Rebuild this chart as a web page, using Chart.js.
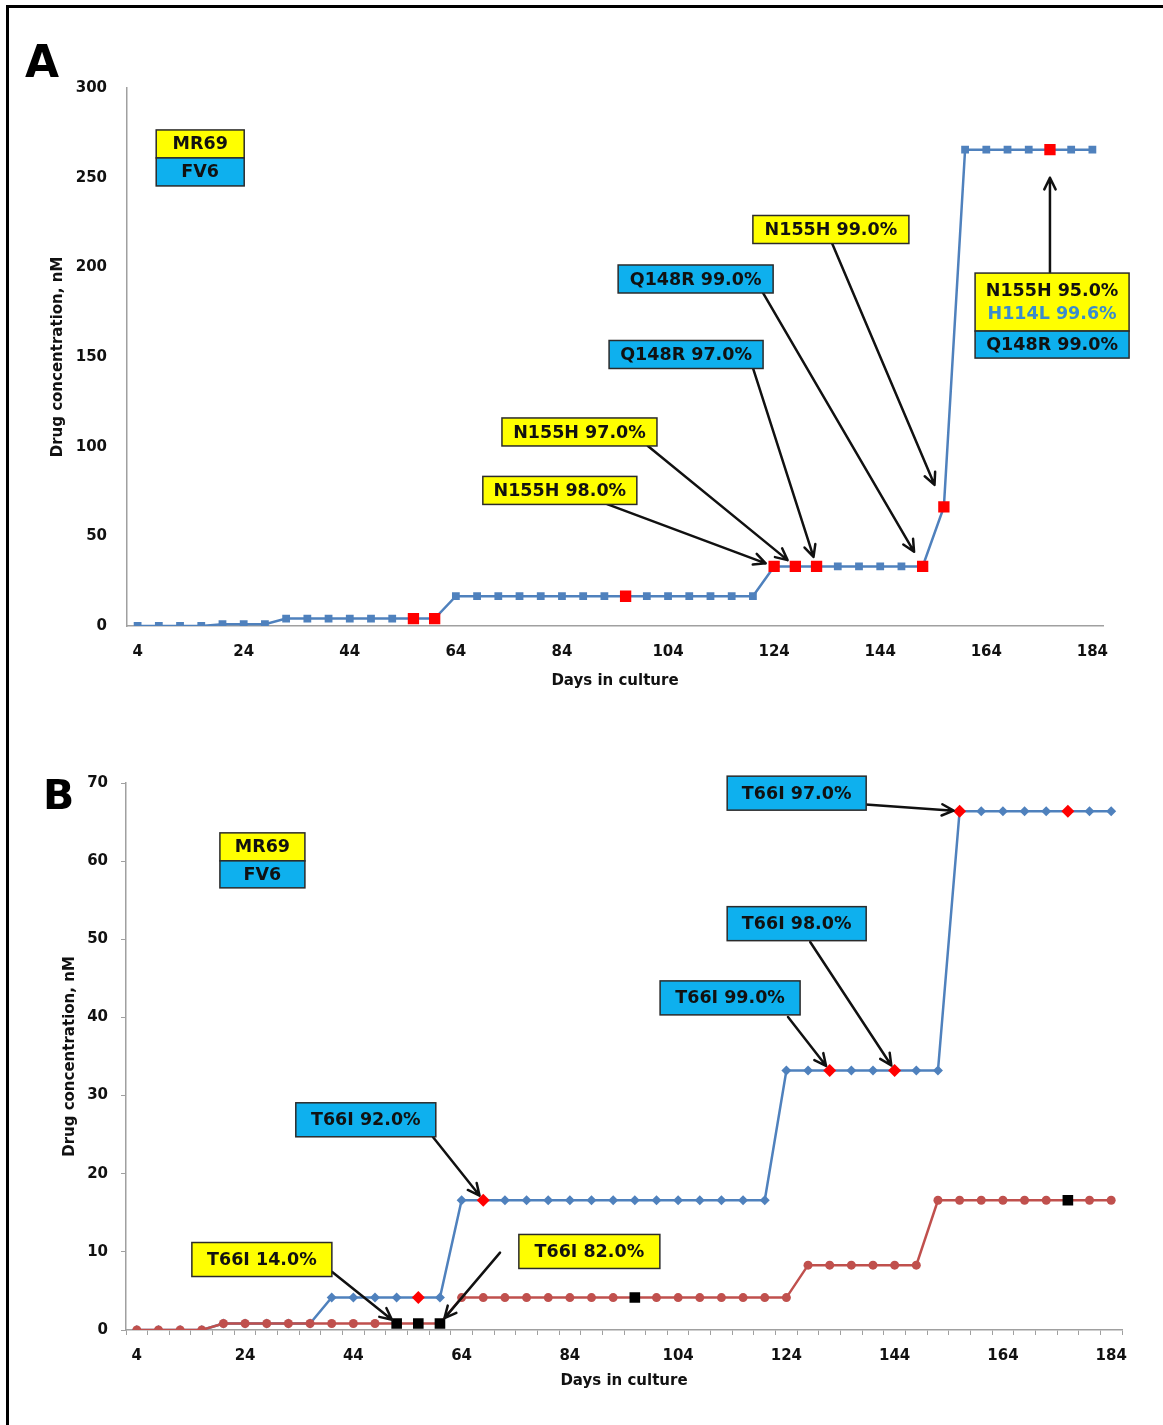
<!DOCTYPE html>
<html>
<head>
<meta charset="utf-8">
<title>Drug escalation - MR69 / FV6</title>
<script src="https://cdn.jsdelivr.net/npm/chart.js@4.4.1/dist/chart.umd.min.js"></script>
<style>
  html, body { margin: 0; padding: 0; background: #fff; }
  #page { position: relative; width: 1163px; height: 1425px; overflow: hidden; }
  .frame { position: absolute; left: 6px; top: 5px; width: 1200px; height: 1500px;
           border-left: 3px solid #000; border-top: 3px solid #000; }
  .panel-letter { position: absolute; font-family: "DejaVu Sans", sans-serif; font-weight: bold;
                  line-height: 1; color: #000; }
  canvas { position: absolute; left: 0; }
</style>
</head>
<body>
<div id="page">
  <div class="frame"></div>
  <canvas id="chartA" width="1163" height="720" style="top:0"></canvas>
  <canvas id="chartB" width="1163" height="705" style="top:720px"></canvas>
  <div class="panel-letter" style="left:25px;top:40px;font-size:44px">A</div>
  <div class="panel-letter" style="left:43px;top:775px;font-size:41px">B</div>
</div>
<script>
// days in culture (one sample every 4 days)
const dayLabels = [
  "4", "8", "12", "16", "20", "24", "28", "32", "36", "40", "44", "48",
  "52", "56", "60", "64", "68", "72", "76", "80", "84", "88", "92", "96",
  "100", "104", "108", "112", "116", "120", "124", "128", "132", "136",
  "140", "144", "148", "152", "156", "160", "164", "168", "172", "176",
  "180", "184",
];
const xTickLabels = ["4", "24", "44", "64", "84", "104", "124", "144", "164", "184"];

// panel A: FV6 drug concentration (nM)
const fv6DrugA = [
  0, 0, 0, 0, 1.04, 1.04, 1.04,
  4.15, 4.15, 4.15, 4.15, 4.15, 4.15, 4.15, 4.15,
  16.6, 16.6, 16.6, 16.6, 16.6, 16.6, 16.6, 16.6, 16.6, 16.6, 16.6, 16.6, 16.6, 16.6, 16.6,
  33.2, 33.2, 33.2, 33.2, 33.2, 33.2, 33.2, 33.2,
  66.4,
  265.6, 265.6, 265.6, 265.6, 265.6, 265.6, 265.6,
];
const sequencedDaysA = [56, 60, 96, 124, 128, 132, 152, 156, 176];

// panel B: FV6 and MR69 drug concentration (nM)
const fv6DrugB = [
  0, 0, 0, 0, 0.83, 0.83, 0.83, 0.83, 0.83,
  4.15, 4.15, 4.15, 4.15, 4.15, 4.15,
  16.6, 16.6, 16.6, 16.6, 16.6, 16.6, 16.6, 16.6, 16.6, 16.6, 16.6, 16.6, 16.6, 16.6, 16.6,
  33.2, 33.2, 33.2, 33.2, 33.2, 33.2, 33.2, 33.2,
  66.4, 66.4, 66.4, 66.4, 66.4, 66.4, 66.4, 66.4,
];
const mr69DrugB = [
  0, 0, 0, 0,
  0.83, 0.83, 0.83, 0.83, 0.83, 0.83, 0.83, 0.83, 0.83, 0.83, 0.83,
  4.15, 4.15, 4.15, 4.15, 4.15, 4.15, 4.15, 4.15, 4.15, 4.15, 4.15, 4.15, 4.15, 4.15, 4.15, 4.15,
  8.3, 8.3, 8.3, 8.3, 8.3, 8.3,
  16.6, 16.6, 16.6, 16.6, 16.6, 16.6, 16.6, 16.6, 16.6,
];
const sequencedDaysFv6B = [56, 68, 132, 144, 156, 176];
const sequencedDaysMr69B = [52, 56, 60, 96, 176];

const FV6_BLUE = "#4f81bd";
const MR69_RED = "#c0504d";
const MARK_RED = "#ff0000";
const MARK_BLACK = "#000000";
const YELLOW = "#ffff00";
const SKY = "#0eb0ee";
const INK = "#111111";
const H114L_BLUE = "#3a8ccc";
const AXIS_GREY = "#a0a0a0";
const FONT = '"DejaVu Sans", sans-serif';

const firstDay = Number(dayLabels[0]);
const dayStep = Number(dayLabels[1]) - firstDay;

// callout boxes: centre given as (day, nM); arrow tail as (day, nM); arrow ends near a data point
const calloutsA = [
  { day: 15.8, value: 261.0, w: 88, fontSize: 17.5,
    rows: [{ fill: YELLOW, h: 28, lines: [["MR69", INK]] }, { fill: SKY, h: 28, lines: [["FV6", INK]] }] },
  { day: 134.7, value: 221.1, w: 156, fontSize: 17.5,
    rows: [{ fill: YELLOW, h: 28, lines: [["N155H 99.0%", INK]] }],
    tail: [134.9, 213.6], target: { dataset: 0, day: 156 }, gap: 24 },
  { day: 109.2, value: 193.5, w: 155, fontSize: 17.5,
    rows: [{ fill: SKY, h: 28, lines: [["Q148R 99.0%", INK]] }],
    tail: [121.9, 185.7], target: { dataset: 0, day: 152 }, gap: 17 },
  { day: 107.4, value: 151.4, w: 154, fontSize: 17.5,
    rows: [{ fill: SKY, h: 28, lines: [["Q148R 97.0%", INK]] }],
    tail: [120.0, 143.9], target: { dataset: 0, day: 132 }, gap: 10 },
  { day: 87.3, value: 108.2, w: 155, fontSize: 17.5,
    rows: [{ fill: YELLOW, h: 28, lines: [["N155H 97.0%", INK]] }],
    tail: [100.2, 100.4], target: { dataset: 0, day: 128 }, gap: 10 },
  { day: 83.6, value: 75.6, w: 154, fontSize: 17.5,
    rows: [{ fill: YELLOW, h: 28, lines: [["N155H 98.0%", INK]] }],
    tail: [92.5, 68.0], target: { dataset: 0, day: 124 }, gap: 9 },
  { day: 176.4, value: 173.1, w: 154, fontSize: 17.5,
    rows: [
      { fill: YELLOW, h: 58, lines: [["N155H 95.0%", INK], ["H114L 99.6%", H114L_BLUE]] },
      { fill: SKY, h: 27, lines: [["Q148R 99.0%", INK]] },
    ],
    tail: [176.0, 196.8], target: { dataset: 0, day: 176 }, gap: 28 },
];

const calloutsB = [
  { day: 27.2, value: 60.1, w: 85, fontSize: 17.5,
    rows: [{ fill: YELLOW, h: 28, lines: [["MR69", INK]] }, { fill: SKY, h: 27, lines: [["FV6", INK]] }] },
  { day: 125.9, value: 68.7, w: 139, fontSize: 17.5,
    rows: [{ fill: SKY, h: 34, lines: [["T66I 97.0%", INK]] }],
    tail: [127.6, 67.8], target: { dataset: 1, day: 156 }, gap: 6 },
  { day: 125.9, value: 52.0, w: 139, fontSize: 17.5,
    rows: [{ fill: SKY, h: 34, lines: [["T66I 98.0%", INK]] }],
    tail: [128.4, 49.65], target: { dataset: 1, day: 144 }, gap: 6 },
  { day: 113.6, value: 42.5, w: 140, fontSize: 17.5,
    rows: [{ fill: SKY, h: 34, lines: [["T66I 99.0%", INK]] }],
    tail: [124.3, 40.06], target: { dataset: 1, day: 132 }, gap: 6 },
  { day: 46.3, value: 26.9, w: 140, fontSize: 17.5,
    rows: [{ fill: SKY, h: 34, lines: [["T66I 92.0%", INK]] }],
    tail: [58.7, 24.7], target: { dataset: 1, day: 68 }, gap: 6 },
  { day: 27.1, value: 9.02, w: 140, fontSize: 17.5,
    rows: [{ fill: YELLOW, h: 34, lines: [["T66I 14.0%", INK]] }],
    tail: [40.1, 7.42], target: { dataset: 0, day: 52 }, gap: 6 },
  { day: 87.6, value: 10.05, w: 141, fontSize: 17.5,
    rows: [{ fill: YELLOW, h: 34, lines: [["T66I 82.0%", INK]] }],
    tail: [71.1, 9.9], target: { dataset: 0, day: 60 }, gap: 7 },
];

function makeCalloutPlugin(notes) {
  return {
    id: "mutationCallouts",
    afterDatasetsDraw(chart) {
      const context = chart.ctx;
      const xScale = chart.scales.x;
      const yScale = chart.scales.y;
      const dayToX = (day) => xScale.getPixelForValue((day - firstDay) / dayStep);

      context.save();

      // arrows first, boxes on top
      notes.forEach((note) => {
        if (!note.target) {
          return;
        }
        const meta = chart.getDatasetMeta(note.target.dataset);
        const point = meta.data[dayLabels.indexOf(String(note.target.day))];
        const startX = dayToX(note.tail[0]);
        const startY = yScale.getPixelForValue(note.tail[1]);
        const angle = Math.atan2(point.y - startY, point.x - startX);
        const tipX = point.x - Math.cos(angle) * note.gap;
        const tipY = point.y - Math.sin(angle) * note.gap;

        context.strokeStyle = INK;
        context.lineWidth = 2.5;
        context.lineCap = "round";
        context.lineJoin = "miter";
        context.beginPath();
        context.moveTo(startX, startY);
        context.lineTo(tipX, tipY);
        [-1, 1].forEach((side) => {
          const a = angle + side * 0.45;
          context.moveTo(tipX - Math.cos(a) * 13, tipY - Math.sin(a) * 13);
          context.lineTo(tipX, tipY);
        });
        context.stroke();
      });

      notes.forEach((note) => {
        const totalHeight = note.rows.reduce((sum, row) => sum + row.h, 0);
        const left = dayToX(note.day) - note.w / 2;
        let top = yScale.getPixelForValue(note.value) - totalHeight / 2;

        note.rows.forEach((row) => {
          context.fillStyle = row.fill;
          context.fillRect(left, top, note.w, row.h);
          context.strokeStyle = "#2b2b2b";
          context.lineWidth = 1.5;
          context.strokeRect(left, top, note.w, row.h);

          context.font = `bold ${note.fontSize}px ${FONT}`;
          context.textAlign = "center";
          context.textBaseline = "middle";
          const lineCount = row.lines.length;
          row.lines.forEach(([text, color], lineIndex) => {
            context.fillStyle = color;
            const y = top + row.h / 2 + (lineIndex - (lineCount - 1) / 2) * 23 + 1;
            context.fillText(text, left + note.w / 2, y);
          });
          top += row.h;
        });
      });

      context.restore();
    },
  };
}

function xAxis({ drawTicks, padding, height }) {
  return {
    type: "category",
    offset: true,
    grid: {
      display: drawTicks,
      drawOnChartArea: false,
      drawTicks,
      tickLength: 5,
      offset: true,
      color: AXIS_GREY,
    },
    border: { display: true, color: AXIS_GREY, width: 1.5 },
    ticks: {
      autoSkip: false,
      maxRotation: 0,
      padding,
      color: INK,
      font: { family: FONT, size: 15, weight: "bold" },
      callback(value) {
        const label = this.getLabelForValue(value);
        return xTickLabels.includes(label) ? label : "";
      },
    },
    title: {
      display: true,
      text: "Days in culture",
      color: INK,
      font: { family: FONT, size: 15, weight: "bold" },
      padding: { top: 4, bottom: 4 },
    },
    afterFit(scale) {
      scale.height = height;
    },
  };
}

function yAxis({ max, step, drawTicks, padding, width }) {
  return {
    min: 0,
    max,
    grid: {
      display: drawTicks,
      drawOnChartArea: false,
      drawTicks,
      tickLength: 5,
      color: AXIS_GREY,
    },
    border: { display: true, color: AXIS_GREY, width: 1.5 },
    ticks: {
      stepSize: step,
      padding,
      color: INK,
      font: { family: FONT, size: 15, weight: "bold" },
    },
    title: {
      display: true,
      text: "Drug concentration, nM",
      color: INK,
      font: { family: FONT, size: 15, weight: "bold" },
      padding: { top: 4, bottom: 4 },
    },
    afterFit(scale) {
      scale.width = width;
    },
  };
}

const baseOptions = {
  responsive: false,
  animation: false,
  plugins: { legend: { display: false }, tooltip: { enabled: false } },
};

new Chart(document.getElementById("chartA"), {
  type: "line",
  data: {
    labels: dayLabels,
    datasets: [
      {
        label: "FV6",
        data: fv6DrugA,
        borderColor: FV6_BLUE,
        borderWidth: 2.5,
        tension: 0,
        pointStyle: "rect",
        pointBackgroundColor: dayLabels.map((d) => (sequencedDaysA.includes(Number(d)) ? MARK_RED : FV6_BLUE)),
        pointBorderColor: dayLabels.map((d) => (sequencedDaysA.includes(Number(d)) ? MARK_RED : FV6_BLUE)),
        pointRadius: dayLabels.map((d) => (sequencedDaysA.includes(Number(d)) ? 8 : 5.5)),
        pointBorderWidth: 0,
      },
    ],
  },
  plugins: [makeCalloutPlugin(calloutsA)],
  options: {
    ...baseOptions,
    layout: { padding: { left: 45, top: 88, right: 60, bottom: 26 } },
    scales: {
      x: xAxis({ drawTicks: false, padding: 17, height: 68 }),
      y: yAxis({ max: 300, step: 50, drawTicks: false, padding: 20, width: 82 }),
    },
  },
});

new Chart(document.getElementById("chartB"), {
  type: "line",
  data: {
    labels: dayLabels,
    datasets: [
      {
        label: "MR69",
        data: mr69DrugB,
        borderColor: MR69_RED,
        borderWidth: 2.5,
        tension: 0,
        pointStyle: dayLabels.map((d) => (sequencedDaysMr69B.includes(Number(d)) ? "rect" : "circle")),
        pointBackgroundColor: dayLabels.map((d) => (sequencedDaysMr69B.includes(Number(d)) ? MARK_BLACK : MR69_RED)),
        pointBorderColor: dayLabels.map((d) => (sequencedDaysMr69B.includes(Number(d)) ? MARK_BLACK : MR69_RED)),
        pointRadius: dayLabels.map((d) => (sequencedDaysMr69B.includes(Number(d)) ? 7.5 : 4.5)),
        pointBorderWidth: 0,
      },
      {
        label: "FV6",
        data: fv6DrugB,
        borderColor: FV6_BLUE,
        borderWidth: 2.5,
        tension: 0,
        pointStyle: "rectRot",
        pointBackgroundColor: dayLabels.map((d) => (sequencedDaysFv6B.includes(Number(d)) ? MARK_RED : FV6_BLUE)),
        pointBorderColor: dayLabels.map((d) => (sequencedDaysFv6B.includes(Number(d)) ? MARK_RED : FV6_BLUE)),
        pointRadius: dayLabels.map((d) => (sequencedDaysFv6B.includes(Number(d)) ? 6.5 : 5)),
        pointBorderWidth: 0,
      },
    ],
  },
  plugins: [makeCalloutPlugin(calloutsB)],
  options: {
    ...baseOptions,
    layout: { padding: { left: 57, top: 63, right: 41, bottom: 31 } },
    scales: {
      x: xAxis({ drawTicks: true, padding: 12, height: 64 }),
      y: yAxis({ max: 70, step: 10, drawTicks: true, padding: 13, width: 69 }),
    },
  },
});
</script>
</body>
</html>
